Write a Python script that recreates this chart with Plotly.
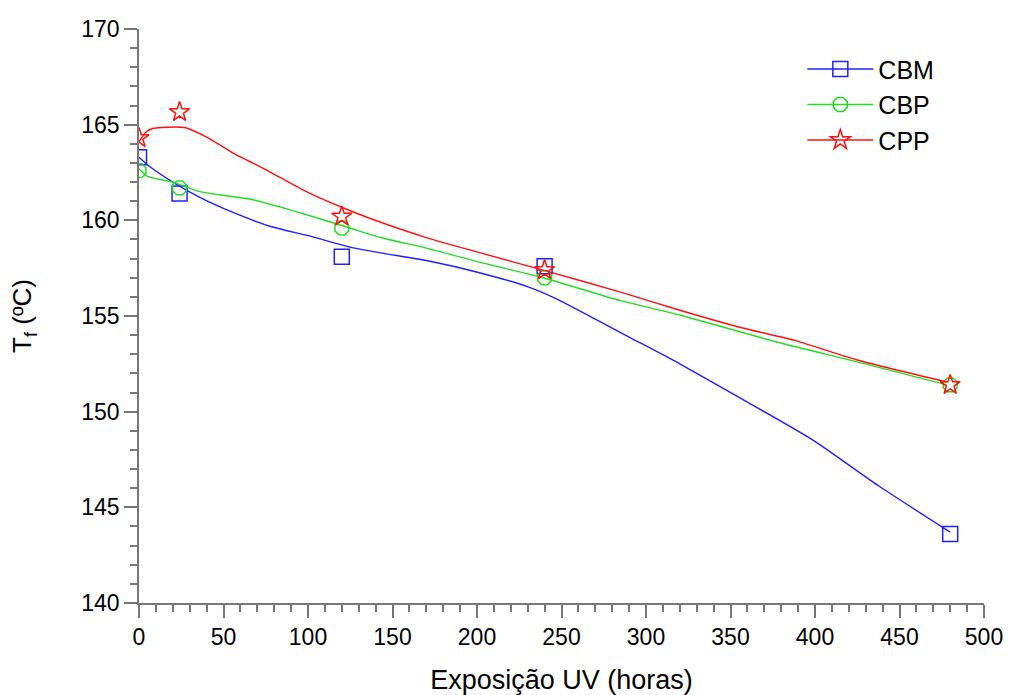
import plotly.graph_objects as go

# Measured data points
hours = [0, 24, 120, 240, 480]
cbm = [163.3, 161.4, 158.1, 157.6, 143.6]
cbp = [162.6, 161.7, 159.6, 157.0, 151.4]
cpp = [164.3, 165.66, 160.2, 157.4, 151.4]

# Fitted (smoothed) curves
cbm_fit_x = [0, 6.5, 20, 36, 56, 79, 100, 125, 143, 170, 202, 231, 247, 290, 320, 360, 399, 438, 480]
cbm_fit_y = [163.3, 162.8, 162.0, 161.2, 160.4, 159.65, 159.2, 158.6, 158.3, 157.9, 157.25, 156.5, 155.9, 153.9, 152.5, 150.5, 148.5, 146.1, 143.7]

cbp_fit_x = [0, 5, 20, 36, 66, 95, 123, 143, 170, 202, 239, 285, 320, 379, 425, 478]
cbp_fit_y = [162.7, 162.3, 162.0, 161.5, 161.1, 160.4, 159.65, 159.1, 158.55, 157.8, 157.0, 155.8, 155.05, 153.6, 152.6, 151.4]

cpp_fit_x = [0, 4, 8, 27, 40, 56, 76, 99, 125, 143, 170, 202, 239, 285, 320, 356, 389, 425, 478]
cpp_fit_y = [164.1, 164.6, 164.8, 164.85, 164.35, 163.5, 162.6, 161.5, 160.5, 159.9, 159.1, 158.3, 157.4, 156.25, 155.3, 154.4, 153.7, 152.7, 151.55]

names = ["CBM", "CBP", "CPP"]
colors = ["#2020ff", "#22dd22", "#ff1010"]
symbols = ["square-open", "octagon-open", "star-open"]
points = [cbm, cbp, cpp]
fits = [(cbm_fit_x, cbm_fit_y), (cbp_fit_x, cbp_fit_y), (cpp_fit_x, cpp_fit_y)]

fig = go.Figure()
for name, col, sym, pts, (fx, fy) in zip(names, colors, symbols, points, fits):
    fig.add_trace(go.Scatter(x=fx, y=fy, mode="lines", line=dict(color=col, width=1.4, shape="spline", smoothing=0.6),
                             showlegend=False, hoverinfo="skip"))
    fig.add_trace(go.Scatter(x=hours, y=pts, mode="markers",
                             marker=dict(symbol=sym, size=15, color=col, line=dict(width=1.5, color=col)),
                             showlegend=False, name=name))
    fig.add_trace(go.Scatter(x=[None], y=[None], mode="lines+markers", name=name,
                             line=dict(color=col, width=1.4),
                             marker=dict(symbol=sym, size=15, color=col, line=dict(width=1.5, color=col))))

axis_common = dict(
    showgrid=False, zeroline=False, showline=True, linecolor="#777777", linewidth=1.5,
    ticks="outside", ticklen=13, tickwidth=1.5, tickcolor="#777777", automargin=False,
    tickfont=dict(family="Liberation Sans, Arial, sans-serif", size=23, color="black"),
)

fig.update_layout(
    width=1010, height=695,
    margin=dict(l=139, r=26, t=29, b=92),
    plot_bgcolor="white", paper_bgcolor="white",
    font=dict(family="Liberation Sans, Arial, sans-serif", color="black"),
    xaxis=dict(range=[0, 500], dtick=50, tick0=0,
               minor=dict(dtick=10, ticks="outside", ticklen=7, tickwidth=1.5, tickcolor="#777777"),
               title=dict(text="Exposição UV (horas)", font=dict(size=27), standoff=30),
               **axis_common),
    yaxis=dict(range=[140, 170], dtick=5, tick0=140,
               minor=dict(dtick=1, ticks="outside", ticklen=7, tickwidth=1.5, tickcolor="#777777"),
               title=dict(text="T<sub>f</sub> (ºC)", font=dict(size=26), standoff=42),
               **axis_common),
    legend=dict(x=0.785, y=0.97, xanchor="left", yanchor="top", bgcolor="rgba(0,0,0,0)",
                font=dict(size=25), itemwidth=66, tracegroupgap=0),
)

fig.write_html("out.html")
